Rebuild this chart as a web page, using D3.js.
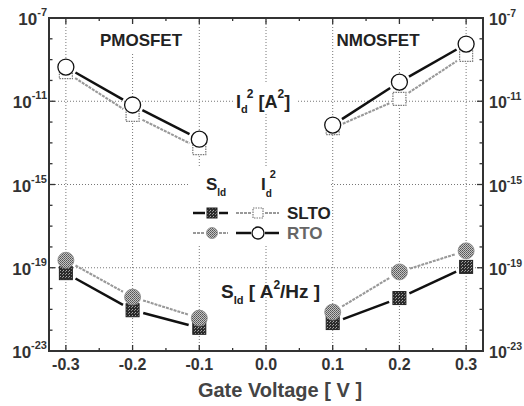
<!DOCTYPE html>
<html><head><meta charset="utf-8">
<script src="https://cdn.jsdelivr.net/npm/d3@7"></script>
<style>body{margin:0;background:#fff}svg{display:block}text{font-family:"Liberation Sans",Arial,sans-serif;font-weight:bold}</style>
</head><body>
<script>
// ---- data ----
const pVolt = [-0.3, -0.2, -0.1];
const nVolt = [0.1, 0.2, 0.3];
const id2RtoP  = [4.4e-10, 6.6e-12, 1.5e-13];
const id2SltoP = [2.5e-10, 2.2e-12, 5.6e-14];
const id2RtoN  = [7.2e-13, 8.3e-11, 5.6e-9];
const id2SltoN = [5.1e-13, 1.3e-11, 1.7e-9];
const sidRtoP  = [2.3e-19, 3.9e-21, 3.8e-22];
const sidSltoP = [5.5e-20, 9.1e-22, 1.3e-22];
const sidRtoN  = [7.4e-22, 6.3e-20, 6.5e-19];
const sidSltoN = [2.2e-22, 3.5e-21, 1.1e-19];
const xTicks = [-0.3, -0.2, -0.1, 0.0, 0.1, 0.2, 0.3];
const yTickExp = [-7, -11, -15, -19, -23];

const W = 524, H = 406;
const L = 49, R = 483, T = 18, B = 351;
const x = d3.scaleLinear().domain([-0.3253, 0.3253]).range([L, R]);
const y = d3.scaleLog().domain([1e-23, 1e-7]).range([B, T]);

const svg = d3.select("body").append("svg").attr("width", W).attr("height", H);
const defs = svg.append("defs");
const pq = defs.append("pattern").attr("id","sq").attr("width",3).attr("height",3).attr("patternUnits","userSpaceOnUse");
pq.append("rect").attr("width",3).attr("height",3).attr("fill","#2b2b2b");
pq.append("rect").attr("x",0).attr("y",0).attr("width",1).attr("height",1).attr("fill","#aaa");
pq.append("rect").attr("x",2).attr("y",1).attr("width",1).attr("height",1).attr("fill","#888");
const pc = defs.append("pattern").attr("id","ci").attr("width",2).attr("height",2).attr("patternUnits","userSpaceOnUse");
pc.append("rect").attr("width",2).attr("height",2).attr("fill","#c4c4c4");
pc.append("rect").attr("x",0).attr("y",0).attr("width",1).attr("height",1).attr("fill","#555");
pc.append("rect").attr("x",1).attr("y",1).attr("width",1).attr("height",1).attr("fill","#6a6a6a");

// grid
const grid = svg.append("g").attr("stroke","#777").attr("stroke-width",1).attr("stroke-dasharray","1,2");
xTicks.forEach(v => grid.append("line").attr("x1",x(v)).attr("x2",x(v)).attr("y1",T).attr("y2",B));
[-11,-15,-19].forEach(e => grid.append("line").attr("x1",L).attr("x2",R).attr("y1",y(Math.pow(10,e))).attr("y2",y(Math.pow(10,e))));

// white boxes behind labels (legend / annotation)
svg.append("rect").attr("x",190).attr("y",166).attr("width",140).attr("height",78).attr("fill","#fff");
svg.append("rect").attr("x",234).attr("y",84).attr("width",62).attr("height",30).attr("fill","#fff");
svg.append("rect").attr("x",96).attr("y",22).attr("width",90).attr("height",30).attr("fill","#fff");
svg.append("rect").attr("x",334).attr("y",22).attr("width",90).attr("height",28).attr("fill","#fff");

// lines (shortened between markers)
function seg(xs, ys, gap, style){
  for(let i=0;i<xs.length-1;i++){
    const x1=x(xs[i]), y1=y(ys[i]), x2=x(xs[i+1]), y2=y(ys[i+1]);
    const dx=x2-x1, dy=y2-y1, len=Math.hypot(dx,dy), ux=dx/len, uy=dy/len;
    const l = svg.append("line").attr("x1",x1+ux*gap).attr("y1",y1+uy*gap).attr("x2",x2-ux*gap).attr("y2",y2-uy*gap);
    style(l);
  }
}
const blackL = l => l.attr("stroke","#111").attr("stroke-width",2.5);
const grayL = l => l.attr("stroke","#999").attr("stroke-width",2.1).attr("stroke-dasharray","3,1");
seg(pVolt, id2SltoP, 11, grayL); seg(nVolt, id2SltoN, 11, grayL);
seg(pVolt, id2RtoP, 11, blackL); seg(nVolt, id2RtoN, 11, blackL);
seg(pVolt, sidRtoP, 11, grayL); seg(nVolt, sidRtoN, 11, grayL);
seg(pVolt, sidSltoP, 11, blackL); seg(nVolt, sidSltoN, 11, blackL);

// markers
function squares(xs, ys, cls){
  svg.append("g").selectAll("rect").data(xs).join("rect")
    .attr("x",(d,i)=>x(d)-6.5).attr("y",(d,i)=>y(ys[i])-6.5).attr("width",13).attr("height",13).call(cls);
}
function circles(xs, ys, cls){
  svg.append("g").selectAll("circle").data(xs).join("circle")
    .attr("cx",d=>x(d)).attr("cy",(d,i)=>y(ys[i])).attr("r",8).call(cls);
}
const openSq = s => s.attr("fill","#fff").attr("stroke","#777").attr("stroke-width",1.2).attr("stroke-dasharray","1.5,1");
const openCi = s => s.attr("fill","#fff").attr("stroke","#111").attr("stroke-width",1.3);
const darkSq = s => s.attr("fill","url(#sq)").attr("stroke","#222").attr("stroke-width",1);
const grayCi = s => s.attr("fill","url(#ci)").attr("stroke","#888").attr("stroke-width",0.8);
squares(pVolt, id2SltoP, openSq); squares(nVolt, id2SltoN, openSq);
circles(pVolt, id2RtoP, openCi); circles(nVolt, id2RtoN, openCi);
squares(pVolt, sidSltoP, darkSq); squares(nVolt, sidSltoN, darkSq);
circles(pVolt, sidRtoP, grayCi); circles(nVolt, sidRtoN, grayCi);

// frame
svg.append("rect").attr("x",L).attr("y",T).attr("width",R-L).attr("height",B-T)
  .attr("fill","none").attr("stroke","#333").attr("stroke-width",2);

// ticks
const tk = svg.append("g").attr("stroke","#333").attr("stroke-width",1.3);
d3.range(-0.3, 0.3001, 0.05).forEach((v,i) => {
  const len = (i%2===0) ? 6 : 3;
  tk.append("line").attr("x1",x(v)).attr("x2",x(v)).attr("y1",B).attr("y2",B-len);
  tk.append("line").attr("x1",x(v)).attr("x2",x(v)).attr("y1",T).attr("y2",T+len);
});
d3.range(-23, -6).forEach(e => {
  const len = ((e+23)%4===0) ? 6 : 3.5;
  const yy = y(Math.pow(10,e));
  tk.append("line").attr("x1",L).attr("x2",L+len).attr("y1",yy).attr("y2",yy);
  tk.append("line").attr("x1",R).attr("x2",R-len).attr("y1",yy).attr("y2",yy);
});

// x tick labels
svg.append("g").selectAll("text").data(xTicks).join("text")
  .attr("x",d=>x(d)).attr("y",370).attr("text-anchor","middle").attr("font-size",16).attr("fill","#333")
  .text(d=>d3.format(".1f")(d).replace("−","-"));
svg.append("text").attr("x",280).attr("y",397).attr("text-anchor","middle").attr("font-size",20).attr("fill","#444")
  .text("Gate Voltage [ V ]");

// y tick labels
yTickExp.forEach(e => {
  const yy = y(Math.pow(10,e));
  const tl = svg.append("text").attr("x",47).attr("y",yy+7).attr("text-anchor","end").attr("font-size",17).attr("fill","#333");
  tl.append("tspan").text("10");
  tl.append("tspan").attr("dy",-9).attr("font-size",11).text(String(e));
  const tr = svg.append("text").attr("x",489).attr("y",yy+7).attr("font-size",16).attr("fill","#333");
  tr.append("tspan").text("10");
  tr.append("tspan").attr("dy",-8).attr("font-size",10.5).text(String(e));
});

// annotations
svg.append("text").attr("x",141).attr("y",46).attr("text-anchor","middle").attr("font-size",17).attr("fill","#222").text("PMOSFET");
svg.append("text").attr("x",378).attr("y",46).attr("text-anchor","middle").attr("font-size",17).attr("fill","#222").text("NMOSFET");
const idl = svg.append("text").attr("x",236).attr("y",108).attr("font-size",18).attr("fill","#222");
idl.append("tspan").text("I");
idl.append("tspan").attr("dy",5).attr("font-size",11).text("d");
idl.append("tspan").attr("dy",-15).attr("dx",-1).attr("font-size",12).text("2");
idl.append("tspan").attr("dy",10).attr("font-size",18).text(" [A");
idl.append("tspan").attr("dy",-10).attr("font-size",12).text("2");
idl.append("tspan").attr("dy",10).attr("font-size",18).text("]");
const sdl = svg.append("text").attr("x",221).attr("y",298).attr("font-size",19).attr("fill","#222");
sdl.append("tspan").text("S");
sdl.append("tspan").attr("dy",6).attr("font-size",11).text("Id");
sdl.append("tspan").attr("dy",-6).text(" [ A");
sdl.append("tspan").attr("dy",-9).attr("font-size",12).text("2");
sdl.append("tspan").attr("dy",9).text("/Hz ]");

// legend
const lg = svg.append("g");
const h1 = lg.append("text").attr("x",206).attr("y",190).attr("font-size",17).attr("fill","#222");
h1.append("tspan").text("S"); h1.append("tspan").attr("dy",6).attr("font-size",10).text("Id");
const h2 = lg.append("text").attr("x",261).attr("y",190).attr("font-size",17).attr("fill","#222");
h2.append("tspan").text("I"); h2.append("tspan").attr("dy",7).attr("font-size",10).text("d");
h2.append("tspan").attr("dy",-19).attr("dx",-2).attr("font-size",11).text("2");
function legLine(x1,x2,yy,style){ const l=lg.append("line").attr("x1",x1).attr("x2",x2).attr("y1",yy).attr("y2",yy); style(l); }
legLine(193,205,213,blackL); legLine(219,228,213,blackL);
legLine(236,251,213,grayL); legLine(265,279,213,grayL);
legLine(193,205,233,grayL); legLine(219,228,233,grayL);
legLine(236,251,233,blackL); legLine(265,279,233,blackL);
lg.append("rect").attr("x",207).attr("y",208).attr("width",10).attr("height",10).call(darkSq);
lg.append("rect").attr("x",253).attr("y",208).attr("width",10).attr("height",10).call(openSq);
lg.append("circle").attr("cx",212).attr("cy",233).attr("r",5.5).call(grayCi);
lg.append("circle").attr("cx",258).attr("cy",233).attr("r",6).call(openCi);
lg.append("text").attr("x",287).attr("y",219).attr("font-size",17).attr("fill","#222").text("SLTO");
lg.append("text").attr("x",287).attr("y",239).attr("font-size",17).attr("fill","#666").text("RTO");
</script>
</body></html>
